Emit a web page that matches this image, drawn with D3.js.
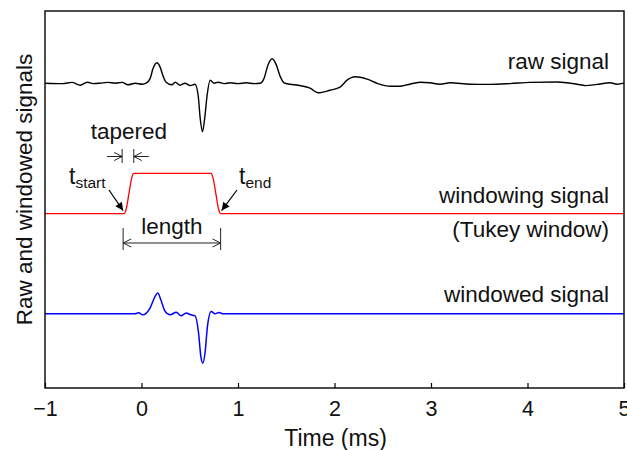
<!DOCTYPE html>
<html>
<head>
<meta charset="utf-8">
<script src="https://cdn.jsdelivr.net/npm/d3@7"></script>
<style>
  body { margin: 0; background: #fff; }
  text { font-family: "Liberation Sans", Arial, sans-serif; fill: #111; }
</style>
</head>
<body>
<div class="chart"></div>
<script>
// Time axis ticks (ms)
const xTicks = [-1, 0, 1, 2, 3, 4, 5];

// Raw signal, [time (ms), amplitude]
const rawSignal = [
  [-1.0, 0], [-0.82, -0.01], [-0.72, 0.02], [-0.635, -0.05], [-0.56, 0.025], [-0.5, -0.01],
  [-0.43, 0], [-0.35, 0.02], [-0.27, 0], [-0.2, 0.02], [-0.14, -0.04], [-0.065, 0],
  [0.007, -0.025], [0.048, 0], [0.09, 0.12], [0.12, 0.37], [0.16, 0.51], [0.19, 0.42],
  [0.225, 0.17], [0.255, 0.025], [0.315, -0.04], [0.35, 0.025], [0.40, -0.05], [0.45, 0],
  [0.505, -0.06], [0.555, -0.025], [0.587, -0.3], [0.608, -0.87], [0.632, -1.21],
  [0.655, -0.87], [0.68, -0.3], [0.711, 0.075], [0.753, 0], [0.795, 0.025], [0.856, -0.01],
  [0.918, 0.01], [1.0, -0.01], [1.085, 0.01], [1.167, -0.01], [1.23, 0], [1.27, 0.12],
  [1.31, 0.45], [1.354, 0.61], [1.395, 0.47], [1.437, 0.17], [1.478, 0.01], [1.54, -0.025],
  [1.623, -0.05], [1.747, -0.125], [1.83, -0.24], [1.954, -0.175], [2.058, -0.1],
  [2.13, 0.075], [2.213, 0.16], [2.338, 0.1], [2.45, -0.01], [2.58, -0.075], [2.68, -0.075],
  [2.752, -0.04], [2.887, 0.025], [2.99, 0.01], [3.094, -0.025], [3.2, 0.01], [3.405, -0.025],
  [3.61, -0.03], [3.82, -0.01], [4.026, 0.02], [4.305, 0.03], [4.513, -0.025], [4.6, -0.06],
  [4.72, -0.03], [4.855, 0.01], [4.93, -0.025], [5.0, 0]
];

// Tukey window, [time (ms), weight]
const windowSignal = [
  [-1.0, 0], [-0.18, 0], [-0.16, 0.1], [-0.13, 0.5], [-0.10, 0.9], [-0.08, 1],
  [0.72, 1], [0.74, 0.9], [0.77, 0.5], [0.80, 0.1], [0.82, 0], [5.0, 0]
];

// Windowed signal, [time (ms), amplitude]
const windowedSignal = [
  [-1.0, 0], [-0.066, 0], [-0.03, 0.025], [0.014, -0.025], [0.09, 0.15], [0.14, 0.43],
  [0.17, 0.52], [0.2, 0.35], [0.245, 0.06], [0.297, -0.025], [0.36, 0.04], [0.41, -0.05],
  [0.463, 0.02], [0.51, -0.025], [0.556, -0.05], [0.59, -0.45], [0.615, -1.06],
  [0.636, -1.23], [0.66, -0.94], [0.683, -0.32], [0.722, 0.06], [0.763, 0], [0.8, 0.03],
  [0.85, 0], [5.0, 0]
];

// Window parameters (ms)
const tStart = -0.18, tEnd = 0.82, taper = 0.1;

// vertical offsets of the three traces
const rawOffset = 7.6, windowOffset = 4.35, windowedOffset = 1.85;

const width = 627, height = 450;
const margin = { top: 11, right: 3, bottom: 62, left: 45 };
const fontSize = 22.5;

const svg = d3.select(".chart")
  .append("svg")
  .attr("width", width)
  .attr("height", height);

const scaleX = d3.scaleLinear()
  .domain([-1, 5])
  .range([margin.left, width - margin.right]);

const scaleY = d3.scaleLinear()
  .domain([0, 9.4])
  .range([height - margin.bottom, margin.top]);

const x0 = margin.left, x1 = width - margin.right;
const y0 = margin.top, y1 = height - margin.bottom;

// Traces
const makeLine = (offset) => d3.line()
  .x(d => scaleX(d[0]))
  .y(d => scaleY(d[1] + offset))
  .curve(d3.curveMonotoneX);

svg.append("path")
  .attr("d", makeLine(rawOffset)(rawSignal))
  .attr("fill", "none")
  .attr("stroke", "#000")
  .attr("stroke-width", 1.4)
  .attr("stroke-linejoin", "round");

svg.append("path")
  .attr("d", makeLine(windowOffset)(windowSignal))
  .attr("fill", "none")
  .attr("stroke", "#ff0000")
  .attr("stroke-width", 1.3)
  .attr("stroke-linejoin", "round");

svg.append("path")
  .attr("d", makeLine(windowedOffset)(windowedSignal))
  .attr("fill", "none")
  .attr("stroke", "#0000ff")
  .attr("stroke-width", 1.5)
  .attr("stroke-linejoin", "round");

// Frame
svg.append("rect")
  .attr("x", x0)
  .attr("y", y0)
  .attr("width", x1 - x0)
  .attr("height", y1 - y0)
  .attr("fill", "none")
  .attr("stroke", "#000")
  .attr("stroke-width", 1.4);

// X axis (ticks pointing inward)
const xAxis = svg.append("g")
  .attr("transform", "translate(0," + y1 + ")")
  .call(d3.axisBottom(scaleX)
    .tickValues(xTicks)
    .tickSizeInner(-5)
    .tickSizeOuter(0)
    .tickPadding(13)
    .tickFormat(d => d < 0 ? "\u2212" + Math.abs(d) : String(d)));

xAxis.select(".domain").remove();
xAxis.selectAll("line").attr("stroke", "#000").attr("stroke-width", 1.2);
xAxis.selectAll("text")
  .style("font-family", '"Liberation Sans", Arial, sans-serif')
  .attr("font-size", 21.5)
  .attr("fill", "#111");

svg.append("text")
  .attr("x", (x0 + x1) / 2 + 1)
  .attr("y", 446)
  .attr("text-anchor", "middle")
  .attr("font-size", 23)
  .text("Time (ms)");

svg.append("text")
  .attr("transform", "translate(32," + ((y0 + y1) / 2 - 10) + ") rotate(-90)")
  .attr("text-anchor", "middle")
  .attr("font-size", fontSize)
  .text("Raw and windowed signals");

// Trace labels
const labelX = 609;
const addLabel = (y, str) => svg.append("text")
  .attr("x", labelX)
  .attr("y", y)
  .attr("text-anchor", "end")
  .attr("font-size", fontSize)
  .text(str);

addLabel(scaleY(rawOffset) - 14, "raw signal");
addLabel(scaleY(windowOffset) - 11, "windowing signal");
addLabel(scaleY(windowOffset) + 23, "(Tukey window)");
addLabel(scaleY(windowedOffset) - 12, "windowed signal");

// Annotations
const annColor = "#222";

svg.append("defs").append("marker")
  .attr("id", "solid-head")
  .attr("viewBox", "0 0 10 10")
  .attr("refX", 10)
  .attr("refY", 5)
  .attr("markerWidth", 9)
  .attr("markerHeight", 8)
  .attr("markerUnits", "userSpaceOnUse")
  .attr("orient", "auto")
  .append("path")
  .attr("d", "M0,0 L10,5 L0,10 Z")
  .attr("fill", "#000");

const chevron = (x, y, dir) => {
  // dir = 1 -> pointing right, -1 -> pointing left
  svg.append("path")
    .attr("d", `M${x - dir * 8},${y - 4} L${x},${y} L${x - dir * 8},${y + 4}`)
    .attr("fill", "none")
    .attr("stroke", annColor)
    .attr("stroke-width", 1);
};

const hLine = (xa, xb, y) => svg.append("line")
  .attr("x1", xa).attr("x2", xb).attr("y1", y).attr("y2", y)
  .attr("stroke", annColor).attr("stroke-width", 1);

const vLine = (x, ya, yb) => svg.append("line")
  .attr("x1", x).attr("x2", x).attr("y1", ya).attr("y2", yb)
  .attr("stroke", annColor).attr("stroke-width", 1);

// tapered
const tpA = scaleX(tStart) - 2, tpB = scaleX(tStart + taper);
svg.append("text")
  .attr("x", (tpA + tpB) / 2 + 1)
  .attr("y", 139)
  .attr("text-anchor", "middle")
  .attr("font-size", fontSize)
  .text("tapered");
vLine(tpA, 149, 163);
vLine(tpB, 149, 163);
hLine(tpA - 15, tpA, 156.5);
chevron(tpA, 156.5, 1);
hLine(tpB, tpB + 15, 156.5);
chevron(tpB, 156.5, -1);

// t_start / t_end
const baseY = scaleY(windowOffset);
const sub = (x, main, subStr) => {
  const t = svg.append("text").attr("x", x).attr("y", 184).attr("font-size", 23);
  t.append("tspan").text(main);
  t.append("tspan").attr("font-size", 15.5).attr("dy", 4).text(subStr);
};
sub(69, "t", "start");
sub(239, "t", "end");

svg.append("line")
  .attr("x1", 109).attr("y1", 190)
  .attr("x2", scaleX(tStart) - 1).attr("y2", baseY - 3)
  .attr("stroke", "#000").attr("stroke-width", 1.2)
  .attr("marker-end", "url(#solid-head)");

svg.append("line")
  .attr("x1", 237).attr("y1", 190)
  .attr("x2", scaleX(tEnd) + 1).attr("y2", baseY - 3)
  .attr("stroke", "#000").attr("stroke-width", 1.2)
  .attr("marker-end", "url(#solid-head)");

// length
const lnA = scaleX(tStart) - 1, lnB = scaleX(tEnd);
svg.append("text")
  .attr("x", (lnA + lnB) / 2)
  .attr("y", 234)
  .attr("text-anchor", "middle")
  .attr("font-size", fontSize)
  .text("length");
vLine(lnA, 228, 250);
vLine(lnB, 228, 250);
hLine(lnA, lnB, 243);
chevron(lnA, 243, -1);
chevron(lnB, 243, 1);
</script>
</body>
</html>
